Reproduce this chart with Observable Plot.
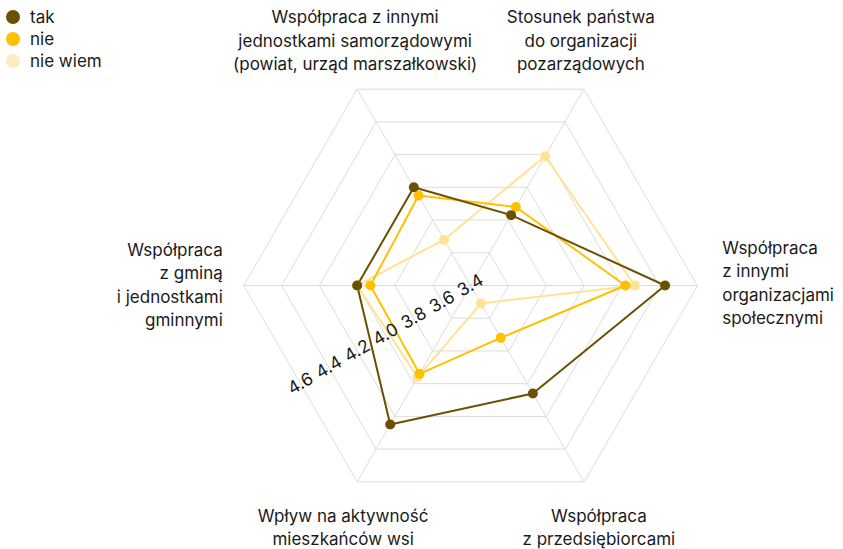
<!DOCTYPE html>
<html><head><meta charset="utf-8">
<script src="https://cdn.jsdelivr.net/npm/d3@7"></script>
<script src="https://cdn.jsdelivr.net/npm/@observablehq/plot@0.6"></script>
<style>
body{margin:0;background:#fff;font-family:Inter,"Noto Sans",sans-serif;}
#wrap{position:relative;width:843px;height:549px;}
#legend{position:absolute;left:6px;top:5.6px;font-size:17px;color:#1a1a1a;}
.item{display:flex;align-items:center;height:22.2px;}
.sw{width:14px;height:14px;border-radius:50%;margin-right:10px;}
</style></head><body><div id="wrap"><div id="legend"></div></div>
<script>
// ---- data ----
const axisLabels = [
  "Współpraca\nz innymi\norganizacjami\nspołecznymi",
  "Stosunek państwa\ndo organizacji\npozarządowych",
  "Współpraca z innymi\njednostkami samorządowymi\n(powiat, urząd marszałkowski)",
  "Współpraca\nz gminą\ni jednostkami\ngminnymi",
  "Wpływ na aktywność\nmieszkańców wsi",
  "Współpraca\nz przedsiębiorcami"
];
const seriesNames = ["tak", "nie", "nie wiem"];
const takValues = [4.43, 3.83, 4.00, 4.00, 4.25, 4.06];
const nieValues = [4.22, 3.88, 3.95, 3.93, 3.94, 3.72];
const nieWiemValues = [4.27, 4.19, 3.68, 4.00, 3.96, 3.51];
const tickValues = [3.4, 3.6, 3.8, 4.0, 4.2, 4.4, 4.6];

// ---- styles / layout ----
const colors = {"tak": "#6b5000", "nie": "#ffc000", "nie wiem": "#ffe393"};
const legendColors = {"tak": "#6b5000", "nie": "#ffc000", "nie wiem": "#feedc2"};
const labelLayout = [
  {anchor: "start", dx: 25, dy: -4},
  {anchor: "middle", dx: -3, dy: -50},
  {anchor: "middle", dx: -2, dy: -50},
  {anchor: "end", dx: -21, dy: -2},
  {anchor: "middle", dx: -14, dy: 44},
  {anchor: "middle", dx: 15, dy: 44}
];

const rMin = tickValues[0], rMax = tickValues[tickValues.length - 1];
const rad = v => (v - rMin) / (rMax - rMin);
const ang = i => i * Math.PI / 3;
const n = axisLabels.length;

const seriesData = [];
[["nie wiem", nieWiemValues], ["nie", nieValues], ["tak", takValues]].forEach(([s, vals]) => {
  vals.forEach((v, i) => seriesData.push({series: s, i, value: v,
    x: rad(v) * Math.cos(ang(i)), y: rad(v) * Math.sin(ang(i))}));
});

const rings = [];
tickValues.slice(1).forEach(t => {
  for (let i = 0; i < n; i++) rings.push({ring: t, x: rad(t) * Math.cos(ang(i)), y: rad(t) * Math.sin(ang(i))});
});
const spokes = d3.range(n).map(i => ({x1: 0, y1: 0, x2: Math.cos(ang(i)), y2: Math.sin(ang(i))}));
const tickAng = 7 * Math.PI / 6, cos30 = Math.cos(Math.PI / 6);
const tickData = tickValues.map(t => ({label: t.toFixed(1),
  x: rad(t) * cos30 * Math.cos(tickAng), y: rad(t) * cos30 * Math.sin(tickAng)}));
const labelData = axisLabels.map((l, i) => ({label: l, x: Math.cos(ang(i)), y: Math.sin(ang(i)), ...labelLayout[i]}));

const cx = 470, cy = 285, R = 226.7;
const plot = Plot.plot({
  width: 843, height: 549,
  marginTop: 0, marginRight: 0, marginBottom: 0, marginLeft: 0,
  style: {fontFamily: "Inter, 'Noto Sans', sans-serif", color: "#1a1a1a", background: "transparent"},
  x: {type: "linear", domain: [-1, 1], range: [cx - R, cx + R], axis: null},
  y: {type: "linear", domain: [-1, 1], range: [cy + R, cy - R], axis: null},
  color: {domain: seriesNames, range: seriesNames.map(s => colors[s])},
  marks: [
    Plot.line(rings, {x: "x", y: "y", z: "ring", curve: "linear-closed", stroke: "#dcdcdc", strokeWidth: 1}),
    Plot.link(spokes, {x1: "x1", y1: "y1", x2: "x2", y2: "y2", stroke: "#dcdcdc", strokeWidth: 1}),
    Plot.line(seriesData, {x: "x", y: "y", z: "series", stroke: "series", curve: "linear-closed", strokeWidth: 2}),
    Plot.dot(seriesData, {x: "x", y: "y", fill: "series", r: 5}),
    Plot.text(tickData, {x: "x", y: "y", text: "label", rotate: -30, fontSize: 17.5, fill: "#1a1a1a", textAnchor: "middle"}),
    ...labelData.map(d => Plot.text([d], {x: "x", y: "y", text: "label", textAnchor: d.anchor, dx: d.dx, dy: d.dy,
      lineAnchor: "middle", lineHeight: 1.37, fontSize: 17, fill: "#1a1a1a"}))
  ]
});
document.getElementById("wrap").prepend(plot);

const leg = document.getElementById("legend");
seriesNames.forEach(s => {
  const it = document.createElement("div"); it.className = "item";
  const sw = document.createElement("span"); sw.className = "sw"; sw.style.background = legendColors[s];
  const tx = document.createElement("span"); tx.textContent = s;
  it.append(sw, tx); leg.append(it);
});
</script></body></html>
